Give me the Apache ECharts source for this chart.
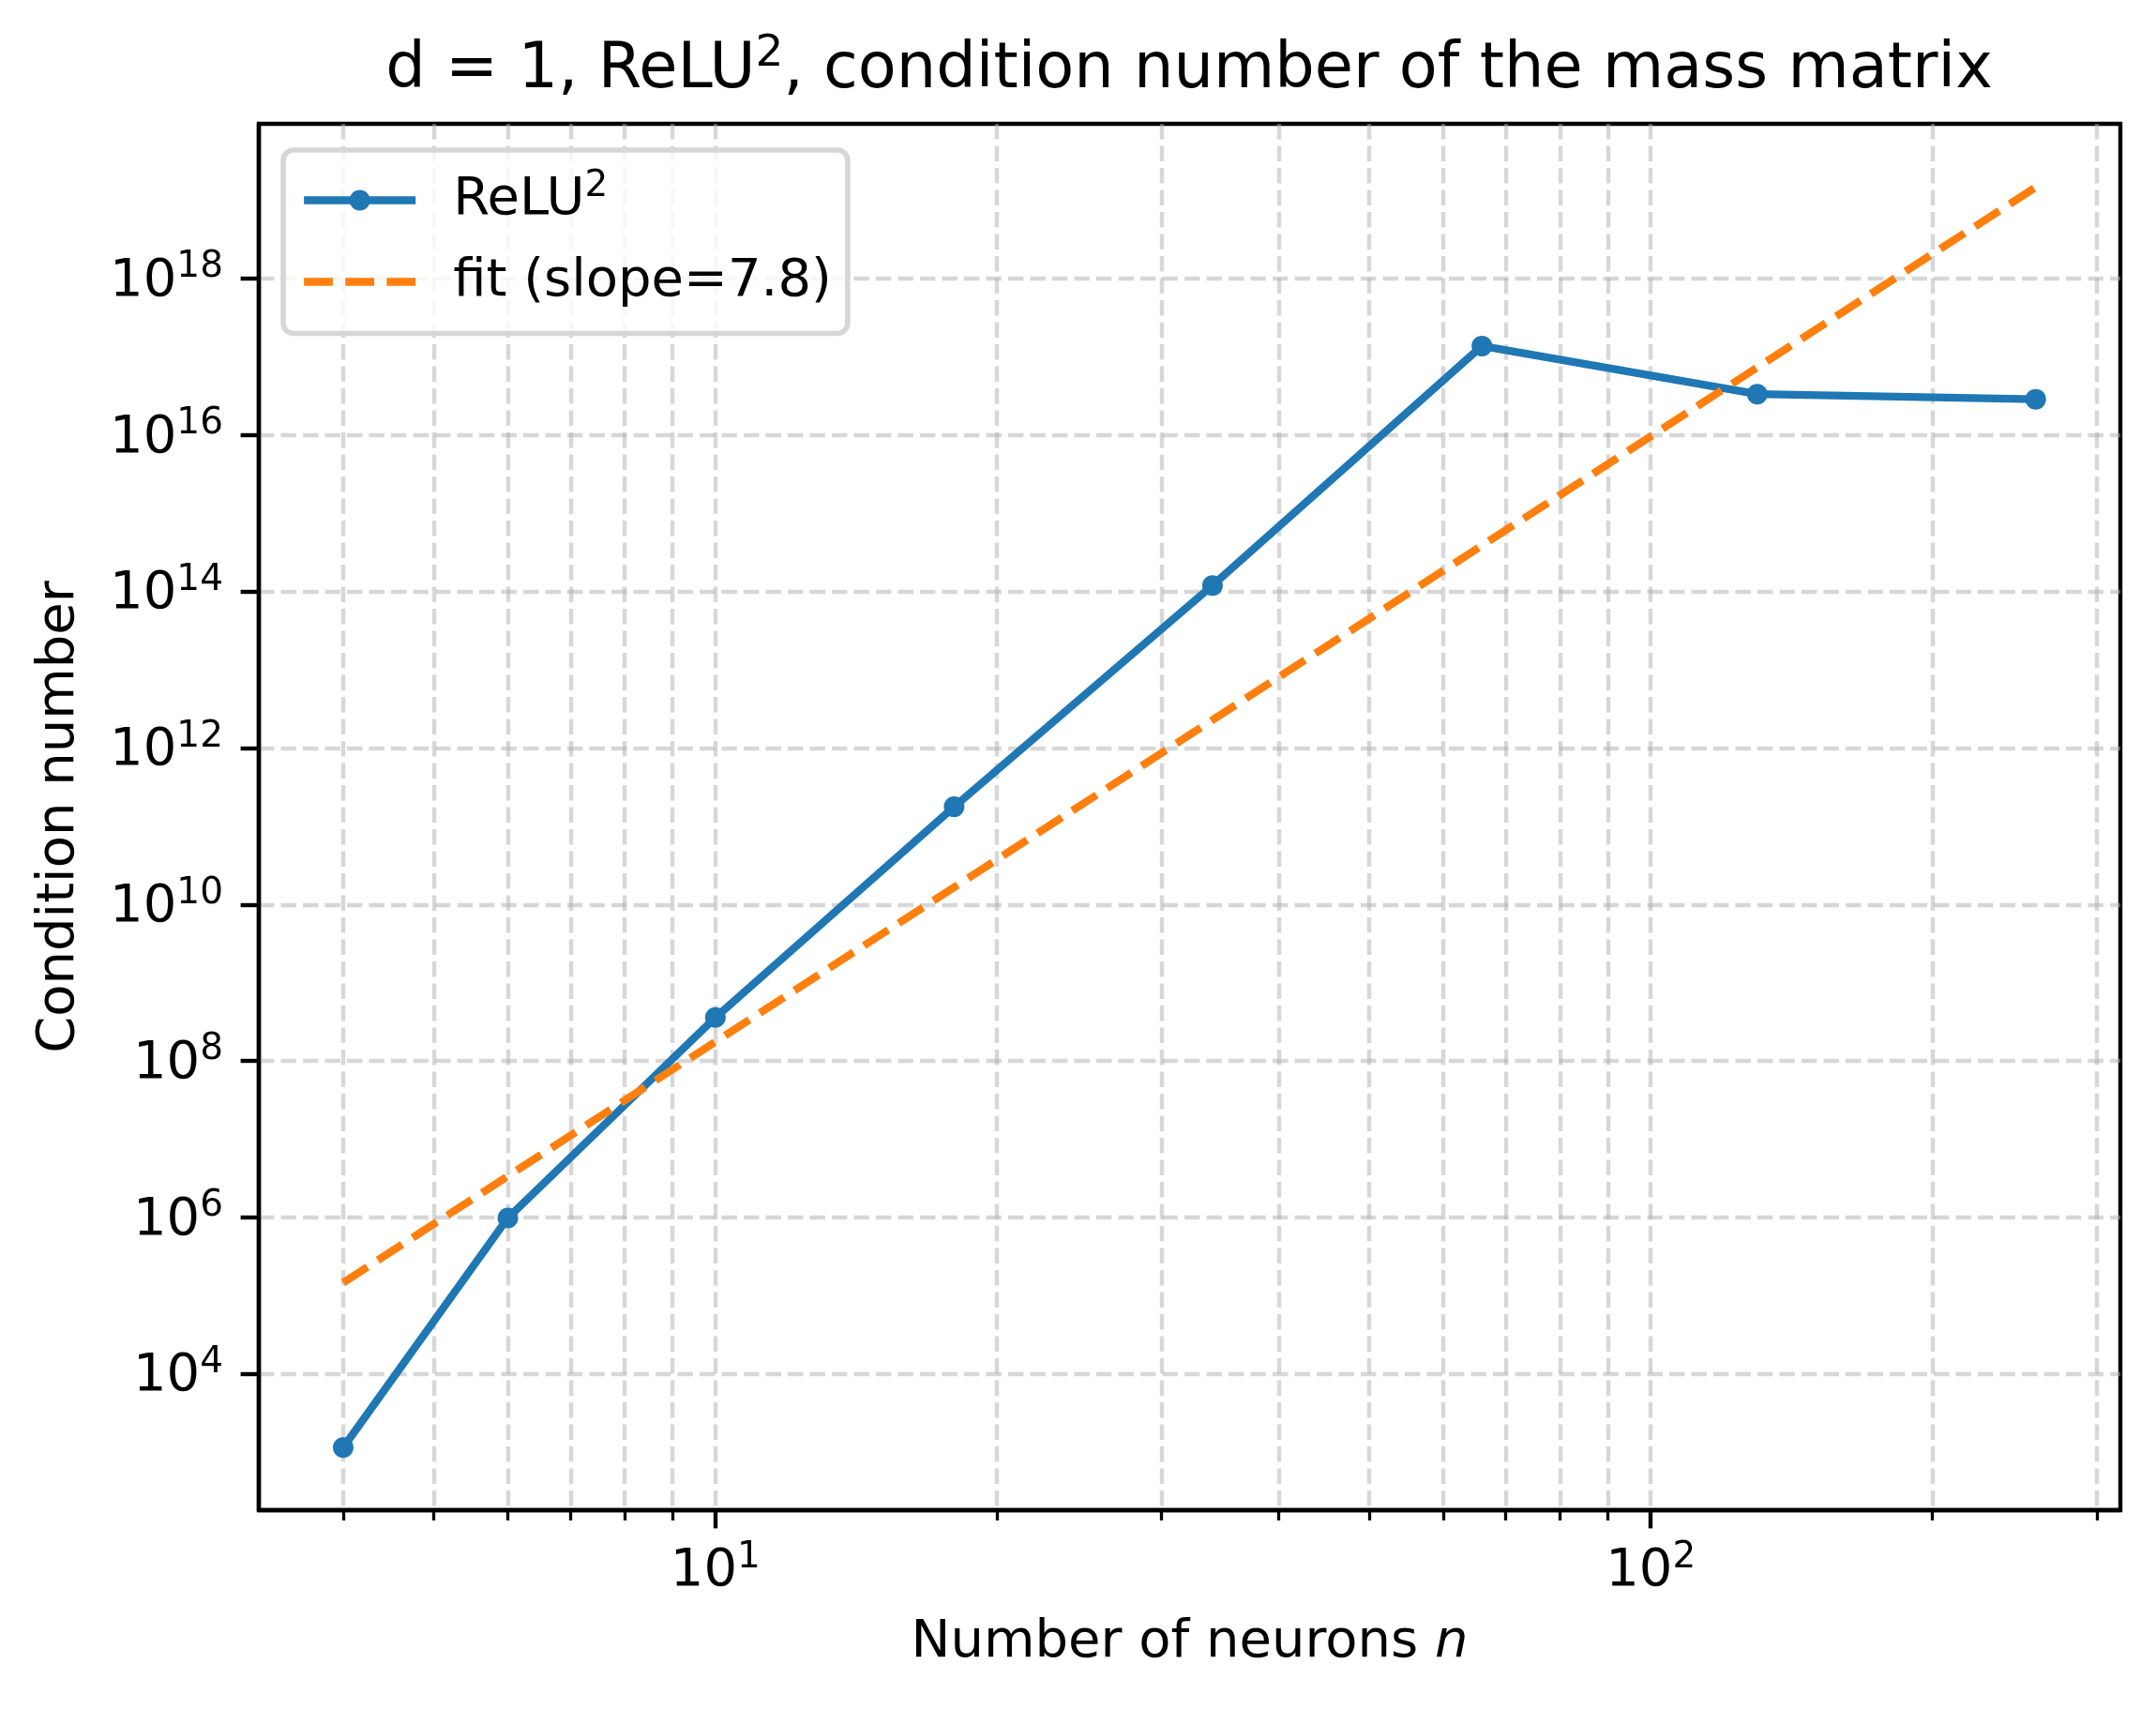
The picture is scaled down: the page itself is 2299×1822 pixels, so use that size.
<!DOCTYPE html>
<html>
<head>
<meta charset="utf-8">
<script src="https://cdn.jsdelivr.net/npm/echarts@6/dist/echarts.min.js"></script>
<style>
html,body{margin:0;padding:0;background:#ffffff;}
#chart{width:2299px;height:1822px;}
</style>
</head>
<body>
<div id="chart"></div>
<script>
// ---- data ----
const neurons = [4, 6, 10, 18, 34, 66, 130, 258];
const conditionNumbers = [1.15e3, 9.9e5, 3.6e8, 1.78e11, 1.2e14, 1.38e17, 3.35e16, 2.88e16];
const fitNeurons = [4, 258];
const fitValues = [1.47e5, 1.48e19];
const xMajorTicks = [10, 100];
const xMinorTicks = [4, 5, 6, 7, 8, 9, 20, 30, 40, 50, 60, 70, 80, 90, 200, 300];
const yMajorTicks = [1e4, 1e6, 1e8, 1e10, 1e12, 1e14, 1e16, 1e18];
const xRange = [3.25, 317.8];
const yRange = [1.82e2, 9.55e19];
const seriesNames = ['ReLU²', 'fit (slope=7.8)'];

const FONT = 'DejaVu Sans';
const lg = Math.log10;

const tickRich = {
  b: {fontSize: 56, lineHeight: 56, fontFamily: FONT, fontWeight: 'normal', color: '#000'},
  s: {fontSize: 39, lineHeight: 26, padding: [0, 0, 30, 0], fontFamily: FONT, fontWeight: 'normal', color: '#000'}
};
const expFormatter = v => '{b|10}{s|' + Math.round(v) + '}';
const gridLine = {show: true, lineStyle: {color: 'rgba(176,176,176,0.5)', width: 4.4, type: [16.4, 7.1]}};

const reluData = neurons.map((n, i) => [lg(n), lg(conditionNumbers[i])]);
const fitData = fitNeurons.map((n, i) => [lg(n), lg(fitValues[i])]);

const chart = echarts.init(document.getElementById('chart'), null, {renderer: 'canvas'});
chart.setOption({
  animation: false,
  backgroundColor: '#ffffff',
  title: {
    text: '{b|d = 1, ReLU}{s|2}{b|, condition number of the mass matrix}',
    left: 1268, top: 42, padding: 0, textAlign: 'center',
    textStyle: {
      fontWeight: 'normal', fontFamily: FONT,
      rich: {
        b: {fontSize: 67, lineHeight: 67, fontFamily: FONT, fontWeight: 'normal', color: '#000'},
        s: {fontSize: 47, lineHeight: 31, padding: [0, 0, 36, 0], fontFamily: FONT, fontWeight: 'normal', color: '#000'}
      }
    }
  },
  legend: {
    left: 302, top: 160, orient: 'vertical',
    padding: [19, 17, 27, 18], itemGap: 24.5,
    itemWidth: 119, itemHeight: 27.5,
    backgroundColor: 'rgba(255,255,255,0.8)',
    borderColor: '#d6d6d6', borderWidth: 5.6, borderRadius: 11,
    data: [
      {name: seriesNames[0], lineStyle: {width: 8.3, color: '#1f77b4'}},
      {name: seriesNames[1], itemStyle: {opacity: 0}, lineStyle: {width: 8.3, color: '#ff7f0e', type: [30.8, 13.3]}}
    ],
    formatter: n => n === seriesNames[0] ? '{g| }{b|ReLU}{s|2}' : '{g| }{b|' + n + '}',
    textStyle: {
      rich: {
        g: {width: 35, fontSize: 56, lineHeight: 56, fontFamily: FONT},
        b: {fontSize: 56, lineHeight: 56, fontFamily: FONT, color: '#000'},
        s: {fontSize: 39, lineHeight: 26, padding: [0, 0, 30, 0], fontFamily: FONT, color: '#000'}
      }
    }
  },
  grid: {
    left: 276, right: 38, top: 132, bottom: 212,
    show: true, borderColor: '#000', borderWidth: 4.4, backgroundColor: 'transparent',
    containLabel: false, outerBoundsMode: 'none'
  },
  xAxis: [
    {
      type: 'value', min: lg(xRange[0]), max: lg(xRange[1]), position: 'bottom',
      name: '{r|Number of neurons }{i|n}', nameLocation: 'middle', nameGap: 113,
      nameTextStyle: {
        rich: {
          r: {fontSize: 56, lineHeight: 56, fontFamily: FONT, color: '#000'},
          i: {fontSize: 56, lineHeight: 56, fontFamily: FONT, fontStyle: 'italic', color: '#000'}
        }
      },
      axisLine: {show: true, onZero: false, lineStyle: {color: '#000', width: 4.4}},
      axisTick: {show: true, customValues: xMajorTicks.map(lg), length: 19.4, lineStyle: {color: '#000', width: 4.4}},
      axisLabel: {customValues: xMajorTicks.map(lg), formatter: expFormatter, margin: 37.6, rich: tickRich},
      splitLine: gridLine,
      minorTick: {show: false}
    },
    {
      type: 'value', min: lg(xRange[0]), max: lg(xRange[1]), position: 'bottom',
      axisLine: {show: false, onZero: false},
      axisTick: {show: true, customValues: xMinorTicks.map(lg), length: 11, lineStyle: {color: '#000', width: 3.3}},
      axisLabel: {show: false},
      splitLine: gridLine
    }
  ],
  yAxis: {
    type: 'value', min: lg(yRange[0]), max: lg(yRange[1]),
    name: 'Condition number', nameLocation: 'middle', nameGap: 185,
    nameTextStyle: {fontSize: 56, lineHeight: 56, fontFamily: FONT, color: '#000'},
    axisLine: {show: true, onZero: false, lineStyle: {color: '#000', width: 4.4}},
    axisTick: {show: true, customValues: yMajorTicks.map(lg), length: 19.4, lineStyle: {color: '#000', width: 4.4}},
    axisLabel: {customValues: yMajorTicks.map(lg), formatter: expFormatter, margin: 38, padding: [6, 0, 0, 0], rich: tickRich},
    splitLine: gridLine
  },
  series: [
    {
      name: seriesNames[0], type: 'line', data: reluData, xAxisIndex: 0, yAxisIndex: 0,
      symbol: 'circle', symbolSize: 22, showAllSymbol: true,
      lineStyle: {color: '#1f77b4', width: 8.3},
      itemStyle: {color: '#1f77b4'}, z: 3
    },
    {
      name: seriesNames[1], type: 'line', data: fitData, xAxisIndex: 0, yAxisIndex: 0,
      symbol: 'none',
      lineStyle: {color: '#ff7f0e', width: 8.3, type: [30.8, 13.3]},
      itemStyle: {color: '#ff7f0e'}, z: 4
    }
  ]
});
</script>
</body>
</html>
